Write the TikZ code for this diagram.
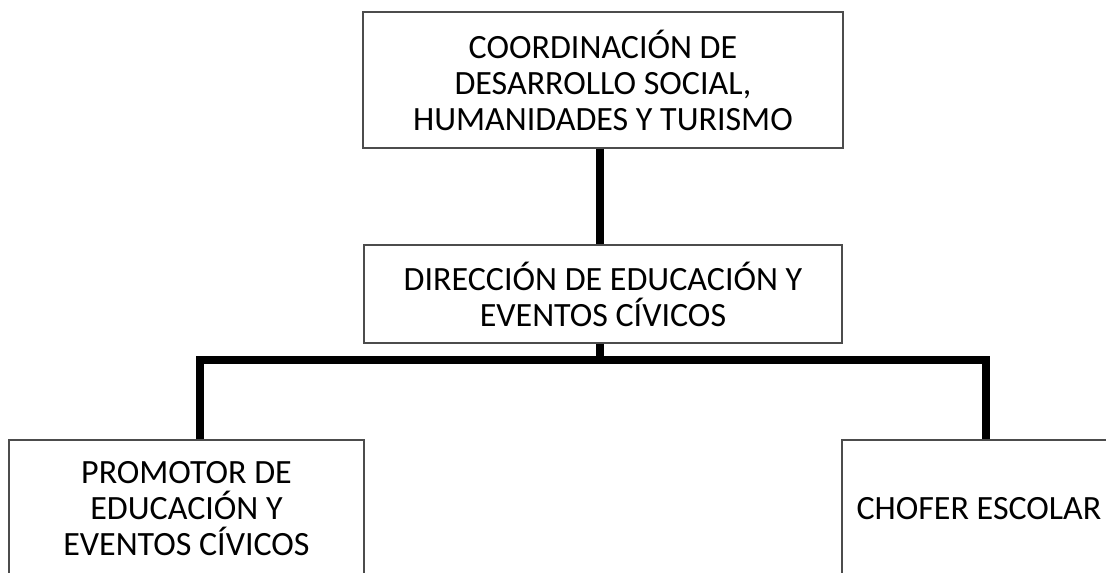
\documentclass[tikz,border=0pt]{standalone}
\usepackage{fontspec}
\setmainfont{Carlito}
\begin{document}
\begin{tikzpicture}[x=1pt,y=-1pt,
  box/.style={draw=black!70, line width=1.3pt, fill=white, align=center,
    font=\fontsize{34}{36}\selectfont, inner sep=0pt},
  conn/.style={line width=8pt, line join=miter}]
\useasboundingbox (0,0) rectangle (1106,573);
\clip (0,0) rectangle (1106,573);
\node[box, minimum width=480pt, minimum height=136pt] (top) at (603,80)
  {COORDINACIÓN DE\\DESARROLLO SOCIAL,\\HUMANIDADES Y TURISMO};
\node[box, minimum width=478pt, minimum height=98pt] (mid) at (603,294)
  {DIRECCIÓN DE EDUCACIÓN Y\\EVENTOS CÍVICOS};
\node[box, minimum width=355pt, minimum height=138pt] (left) at (186.5,509)
  {PROMOTOR DE\\EDUCACIÓN Y\\EVENTOS CÍVICOS};
\node[box, minimum width=274pt, minimum height=138pt] (right) at (979,509)
  {CHOFER ESCOLAR};
\coordinate (bus) at (600,360);
\coordinate (rdrop) at ([xshift=7pt]right.north);
\coordinate (ldrop) at ([xshift=13.5pt]left.north);
\draw[conn] ([xshift=-3pt]top.south) -- ([xshift=-3pt]mid.north);
\draw[conn] ([xshift=-3pt]mid.south) -- (bus);
\draw[conn] (ldrop) |- (bus -| rdrop) -- (rdrop);
\end{tikzpicture}
\end{document}
